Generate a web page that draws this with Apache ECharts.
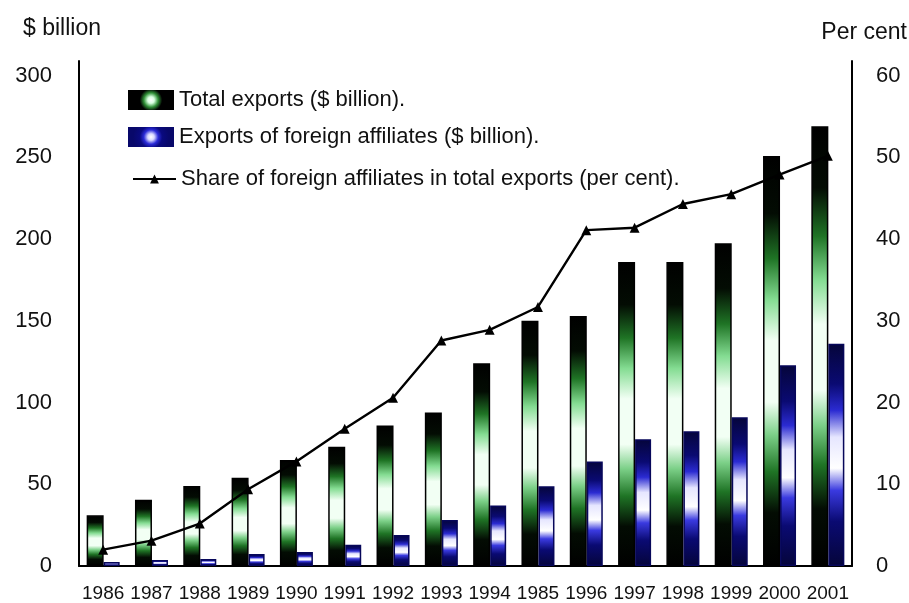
<!DOCTYPE html>
<html>
<head>
<meta charset="utf-8">
<title>Exports and foreign affiliates</title>
<script src="https://cdn.jsdelivr.net/npm/echarts@6/dist/echarts.min.js"></script>
<style>
  html, body { margin: 0; padding: 0; background: #ffffff; }
  #chart { width: 909px; height: 603px; }
</style>
</head>
<body>
<div id="chart"></div>
<script>
// Years on the category axis (the "1985" label is printed that way in the source table)
const years = ['1986', '1987', '1988', '1989', '1990', '1991', '1992', '1993',
               '1994', '1985', '1996', '1997', '1998', '1999', '2000', '2001'];

// Total exports, $ billion
const totalExports = [31, 40.5, 49, 54, 64.8, 73, 86, 94,
                      124, 150, 153, 186, 186, 197.5, 250.8, 269];

// Exports of foreign affiliates, $ billion
const affiliateExports = [2.4, 3.7, 4.3, 7.3, 8.5, 13, 19, 28.2,
                          37, 48.8, 64, 77.6, 82.5, 91, 122.8, 136];

// Share of foreign affiliates in total exports, per cent
const affiliateShare = [2.0, 3.1, 5.2, 9.4, 12.8, 16.8, 20.6, 27.6,
                        28.9, 31.7, 41.1, 41.4, 44.3, 45.5, 47.9, 50.2];

// Axis tick values
const leftTicks = [0, 50, 100, 150, 200, 250, 300];
const rightTicks = [0, 10, 20, 30, 40, 50, 60];

const names = {
  total: 'Total exports ($ billion).',
  affiliates: 'Exports of foreign affiliates ($ billion).',
  share: 'Share of foreign affiliates in total exports (per cent).'
};

const FONT = '"Liberation Sans", Arial, sans-serif';

function vGrad(stops) {
  return new echarts.graphic.LinearGradient(0, 0, 0, 1,
    stops.map(s => ({ offset: s[0], color: s[1] })));
}
function rGrad(stops) {
  return new echarts.graphic.RadialGradient(0.5, 0.5, 0.9,
    stops.map(s => ({ offset: s[0], color: s[1] })));
}

// Shaded fills: dark at the ends, bright in the middle of each bar
const greenFill = vGrad([
  [0, '#000000'], [0.14, '#030c03'], [0.25, '#1f7425'], [0.35, '#84dc92'],
  [0.45, '#f2fff4'], [0.6, '#f2fff4'], [0.68, '#7cd088'], [0.77, '#1f7425'],
  [0.87, '#030c03'], [1, '#000000']
]);
const blueFill = vGrad([
  [0, '#05053a'], [0.18, '#0a0a72'], [0.3, '#2b2bd2'], [0.42, '#e6e6ff'],
  [0.56, '#ffffff'], [0.66, '#3a3ae0'], [0.8, '#0a0a72'], [1, '#05053a']
]);
const greenIcon = rGrad([[0, '#ffffff'], [0.18, '#d8ffe0'], [0.4, '#2f8f36'], [0.62, '#000000'], [1, '#000000']]);
const blueIcon = rGrad([[0, '#ffffff'], [0.18, '#d8d8ff'], [0.4, '#2b2bd8'], [0.62, '#0a0a80'], [1, '#08086a']]);

const Y_MAX = 309;

const legendText = { fontFamily: FONT, fontSize: 22, color: '#111111' };

const option = {
  backgroundColor: '#ffffff',
  animation: false,
  textStyle: { fontFamily: FONT },
  grid: { left: 79, right: 57, top: 61, bottom: 35 },
  graphic: [
    { type: 'text', left: 23, top: 17,
      style: { text: '$ billion', font: '23px ' + FONT, fill: '#111111' } },
    { type: 'text', right: 2, top: 21,
      style: { text: 'Per cent', font: '23px ' + FONT, fill: '#111111' } }
  ],
  legend: [
    { left: 128, top: 89, padding: 0, itemWidth: 46, itemHeight: 20,
      icon: 'rect', selectedMode: false, textStyle: legendText,
      data: [{ name: names.total, itemStyle: { color: greenIcon, borderWidth: 0 } }] },
    { left: 128, top: 126, padding: 0, itemWidth: 46, itemHeight: 20,
      icon: 'rect', selectedMode: false, textStyle: legendText,
      data: [{ name: names.affiliates, itemStyle: { color: blueIcon, borderWidth: 0 } }] },
    { left: 132, top: 168, padding: 0, itemWidth: 43, itemHeight: 11,
      selectedMode: false, textStyle: legendText,
      data: [{ name: names.share }] }
  ],
  xAxis: {
    type: 'category',
    data: years,
    boundaryGap: true,
    axisLine: { lineStyle: { color: '#000000', width: 2 } },
    axisTick: { show: false },
    axisLabel: { fontFamily: FONT, fontSize: 19, color: '#111111', margin: 18, interval: 0 }
  },
  yAxis: [
    {
      type: 'value', min: 0, max: Y_MAX, interval: 50,
      splitLine: { show: false },
      axisLine: { show: true, lineStyle: { color: '#000000', width: 2 } },
      axisTick: { show: false },
      axisLabel: {
        fontFamily: FONT, fontSize: 22, color: '#111111', margin: 27,
        formatter: v => (leftTicks.indexOf(v) >= 0 ? String(v) : '')
      }
    },
    {
      type: 'value', min: 0, max: Y_MAX / 5, interval: 10,
      position: 'right',
      splitLine: { show: false },
      axisLine: { show: true, lineStyle: { color: '#000000', width: 2 } },
      axisTick: { show: false },
      axisLabel: {
        fontFamily: FONT, fontSize: 22, color: '#111111', margin: 24,
        formatter: v => (rightTicks.indexOf(v) >= 0 ? String(v) : '')
      }
    }
  ],
  series: [
    {
      name: names.total, type: 'bar', yAxisIndex: 0,
      data: totalExports, barWidth: 17, barGap: '0%',
      itemStyle: { color: greenFill, borderColor: '#000000', borderWidth: 1.5 }
    },
    {
      name: names.affiliates, type: 'bar', yAxisIndex: 0,
      data: affiliateExports, barWidth: 16, barGap: '0%',
      itemStyle: { color: blueFill, borderColor: '#07075a', borderWidth: 1.5 }
    },
    {
      name: names.share, type: 'line', yAxisIndex: 1,
      data: affiliateShare,
      symbol: 'triangle', symbolSize: 10, showSymbol: true,
      lineStyle: { color: '#000000', width: 2.4 },
      itemStyle: { color: '#000000' },
      z: 5
    }
  ]
};

echarts.init(document.getElementById('chart'), null, { renderer: 'canvas' }).setOption(option);
</script>
</body>
</html>
